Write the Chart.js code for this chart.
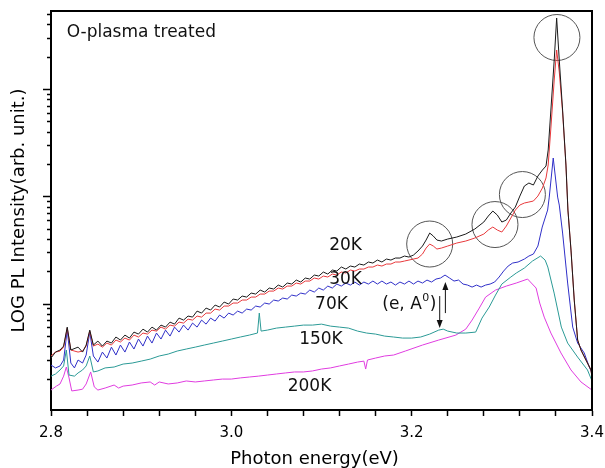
<!DOCTYPE html>
<html>
<head>
<meta charset="utf-8">
<script src="https://cdn.jsdelivr.net/npm/chart.js@4"></script>
<style>
html,body{margin:0;padding:0;background:#fff;}
#c{display:block;}
</style>
</head>
<body>
<canvas id="c" width="605" height="468"></canvas>
<script>
// ---------- DATA (photon energy in eV, PL intensity in arb. units) ----------
const energy20K30K = [2.800,2.805,2.810,2.814,2.818,2.822,2.830,2.835,2.839,2.843,2.847,
 2.852,2.857,2.862,2.867,2.872,2.877,2.882,2.887,2.892,2.897,
 2.902,2.907,2.912,2.917,2.922,2.927,2.932,2.937,2.942,2.947,
 2.952,2.957,2.962,2.967,2.972,2.977,2.982,2.987,2.992,2.997,
 3.002,3.007,3.012,3.017,3.022,3.027,3.032,3.037,3.042,3.047,
 3.052,3.057,3.062,3.067,3.072,3.077,3.082,3.087,3.092,3.097,
 3.102,3.107,3.112,3.117,3.122,3.127,3.132,3.137,3.142,3.147,
 3.152,3.157,3.162,3.167,3.172,3.177,3.182,3.187,3.192,3.197,
 3.202,3.207,3.212,3.216,3.220,3.224,3.228,3.233,
 3.240,3.250,3.260,3.270,3.280,
 3.285,3.290,3.295,3.300,3.305,3.310,3.315,3.320,3.325,3.330,3.335,3.340,3.345,
 3.349,3.3514,3.3544,3.3581,3.3608,3.3637,3.3674,3.3711,3.3733,3.3767,3.3803,3.3841,3.3878,3.3933,3.3989,3.400];

const pl20K = [314,357,373,406,610,373,397,357,415,572,415,
 452,406,452,433,493,462,514,482,548,525,
 584,548,610,572,637,610,679,650,740,709,
 773,756,860,824,918,879,979,938,1044,1000,
 1114,1090,1187,1162,1266,1239,1350,1294,1410,1380,
 1503,1440,1570,1536,1674,1604,1748,1710,1863,1824,
 1988,1904,2075,2031,2213,2120,2261,2213,2360,2310,
 2464,2412,2571,2464,2627,2571,2684,2684,2802,2742,
 2862,3119,3472,3949,4590,4303,3949,3866,
 4035,4212,4492,5001,5812,
 6609,7358,6753,5812,6066,7050,8020,10150,12590,13420,12860,15590,17740,
 19330,27250,64280,188000,463000,188000,64280,19750,7518,3187,1090,462,373,301,243,205];

const pl30K = [328,357,365,397,597,373,357,365,406,560,406,
 424,397,433,415,462,443,482,462,514,493,
 537,525,572,560,610,584,637,623,679,665,
 724,709,773,756,824,824,898,879,958,958,
 1022,1022,1090,1090,1162,1162,1239,1239,1321,1321,
 1410,1380,1471,1471,1570,1536,1638,1638,1748,1710,
 1824,1786,1904,1863,1988,1945,2075,2031,2120,2120,
 2213,2213,2310,2261,2360,2360,2464,2464,2517,2571,
 2627,2684,2925,3326,3625,3472,3256,3326,
 3472,3703,3866,4122,4492,
 4895,5220,4895,4689,5334,6332,7518,8370,8738,8927,9121,10150,12060,
 14960,19750,43690,122400,233000,145300,61600,19750,7518,3187,1090,462,373,301,243,209];

const energy70K = [2.800,2.805,2.810,2.814,2.818,2.822,2.826,2.830,2.835,2.839,2.843,2.847,
 2.852,2.857,2.862,2.867,2.872,2.877,2.882,2.887,2.892,2.897,
 2.902,2.907,2.912,2.917,2.922,2.927,2.932,2.937,2.942,2.947,
 2.952,2.957,2.962,2.967,2.972,2.977,2.982,2.987,2.992,2.997,
 3.002,3.007,3.012,3.017,3.022,3.027,3.032,3.037,3.042,3.047,
 3.052,3.057,3.062,3.067,3.072,3.077,3.082,3.087,3.092,3.097,
 3.102,3.107,3.112,3.117,3.122,3.127,3.132,3.137,3.142,3.147,
 3.152,3.157,3.162,3.167,3.172,3.177,3.182,3.187,3.192,3.197,
 3.202,3.207,3.212,3.217,3.222,3.227,3.232,3.237,3.242,3.247,
 3.252,3.257,3.262,3.267,3.272,3.277,3.282,3.287,3.292,3.297,
 3.302,3.307,3.312,
 3.318,3.325,3.330,3.335,3.340,3.3448,3.3508,3.3526,3.357,3.3619,3.3637,3.3674,3.373,3.3786,3.3841,3.3914,3.397,3.400];

const pl70K = [270,254,265,301,572,282,254,301,282,335,548,328,
 288,357,314,397,335,415,357,443,381,472,
 406,503,433,537,472,572,503,610,548,637,
 572,665,610,709,650,740,694,790,740,824,
 790,860,824,898,879,958,938,1022,1000,1090,
 1067,1138,1114,1213,1187,1266,1239,1350,1294,1410,
 1350,1471,1410,1536,1471,1570,1503,1604,1503,1604,
 1536,1638,1536,1638,1536,1604,1503,1604,1536,1638,
 1536,1638,1570,1674,1604,1710,1748,1863,1748,1638,
 1674,1536,1503,1440,1503,1440,1503,1536,1604,1786,
 2031,2261,2412,
 2464,2627,2802,2925,3472,5220,7518,9930,22950,9930,8370,4590,1570,610,433,350,259,228];

const energy150K = [2.800,2.805,2.810,2.814,2.817,2.820,2.826,2.830,2.835,2.839,2.843,2.847,2.852,
 2.860,2.870,2.880,2.890,2.900,2.910,2.920,2.930,2.940,2.950,2.960,2.970,2.980,2.990,3.000,3.010,3.020,
 3.029,3.031,3.033,
 3.040,3.050,3.060,3.070,3.080,3.090,3.100,3.110,3.120,3.130,3.140,3.150,3.160,3.170,3.180,3.190,3.200,3.210,3.220,3.230,
 3.235,3.240,3.250,3.260,
 3.271,3.278,3.286,3.293,3.300,3.310,3.316,3.325,3.334,3.343,3.348,3.351,3.358,3.366,3.373,3.384,3.395,3.400];

const pl150K = [213,223,243,265,373,218,213,228,243,265,328,233,238,
 254,259,276,282,294,307,328,342,365,381,397,415,433,452,472,493,514,
 537,824,560,
 572,597,610,623,637,637,650,623,610,597,560,537,525,503,493,482,482,493,525,572,
 584,560,537,537,
 548,740,938,1213,1536,1786,1945,2166,2517,2802,2571,2213,1266,610,433,321,243,192];

const energy200K = [2.800,2.806,2.810,2.814,2.817,2.820,2.823,2.830,2.835,2.839,2.844,2.848,2.852,
 2.860,2.870,2.875,2.880,2.890,2.900,2.910,2.915,2.920,2.930,2.940,2.950,2.960,2.970,2.980,2.990,3.000,
 3.010,3.020,3.030,3.040,3.050,3.060,3.070,3.080,3.090,3.100,3.110,3.120,3.130,3.140,
 3.147,3.149,3.151,
 3.160,3.170,3.180,3.193,3.212,3.230,3.249,3.260,3.267,3.275,3.282,3.293,3.305,3.316,3.3286,3.338,3.342,3.347,3.3544,3.3656,3.3767,3.3878,3.400];

const pl200K = [158,172,180,213,259,205,155,158,161,180,233,169,158,
 165,176,165,172,176,184,188,176,188,180,184,192,188,192,196,200,200,
 205,209,213,218,223,228,233,233,238,248,254,265,276,288,
 294,248,301,
 314,328,335,365,415,462,514,584,709,918,1162,1350,1471,1570,1710,1410,1022,756,537,350,243,188,158];

// Highlight circles (energy, intensity)
const circleEnergy = [3.220, 3.2924, 3.3228, 3.3611];
const circleIntensity = [3625, 5507, 10484, 304600];

// Temperature labels
const tempLabels = ['20K','30K','70K','150K','200K'];
const tempLabelEnergy = [3.1267, 3.1267, 3.1111, 3.0994, 3.0867];
const tempLabelIntensity = [3471, 1673, 979, 462, 172];

// Axis ticks
const xMajorTicks = [2.8, 3.0, 3.2, 3.4];
const xMajorLabels = ['2.8', '3.0', '3.2', '3.4'];
const xMinorStep = 0.04;
const yMin = 103, yMax = 538000;

// (e, A0) annotation arrows: energy, from-intensity, to-intensity
const arrowUp = {e: 3.2374, from: 824, to: 1603};
const arrowDown = {e: 3.2311, from: 1187, to: 597};
const eA0Label = {e: 3.1674, i: 979};
const panelLabel = {text: 'O-plasma treated', e: 2.8174, i: 340600};

// ---------- helpers ----------
const pts = (xs, ys) => xs.map((x, i) => ({x: x, y: ys[i]}));
const xTicks = [];
for (let k = 0; k <= Math.round((3.4 - 2.8) / xMinorStep); k++) xTicks.push(+(2.8 + k * xMinorStep).toFixed(3));
const yMajor = [], yMinor = [];
for (let p = 2; p <= 5; p++) {
  for (let m = 1; m <= 9; m++) {
    const v = m * Math.pow(10, p);
    if (v < yMin || v > yMax) continue;
    (m === 1 ? yMajor : yMinor).push(v);
  }
}

function drawArrow(ctx, x, y1, y2) {
  const dir = y2 < y1 ? -1 : 1;
  ctx.beginPath();
  ctx.moveTo(x, y1);
  ctx.lineTo(x, y2 - dir * 7);
  ctx.stroke();
  ctx.beginPath();
  ctx.moveTo(x, y2);
  ctx.lineTo(x - 3, y2 - dir * 8);
  ctx.lineTo(x + 3, y2 - dir * 8);
  ctx.closePath();
  ctx.fill();
}

const annotPlugin = {
  id: 'annot',
  afterDatasetsDraw(chart) {
    const {ctx, chartArea: a} = chart;
    const xs = chart.scales.x, ys = chart.scales.y;
    ctx.save();
    // frame (top and right)
    ctx.strokeStyle = '#000';
    ctx.lineWidth = 2;
    ctx.beginPath();
    ctx.moveTo(a.left - 1, a.top);
    ctx.lineTo(a.right, a.top);
    ctx.lineTo(a.right, a.bottom + 1);
    ctx.stroke();

    ctx.fillStyle = '#111';
    ctx.textBaseline = 'middle';
    // temperature labels
    ctx.font = '17px "DejaVu Sans"';
    ctx.textAlign = 'center';
    tempLabels.forEach((t, i) => {
      ctx.fillText(t, xs.getPixelForValue(tempLabelEnergy[i]), ys.getPixelForValue(tempLabelIntensity[i]));
    });
    // panel label
    ctx.textAlign = 'left';
    ctx.fillText(panelLabel.text, xs.getPixelForValue(panelLabel.e), ys.getPixelForValue(panelLabel.i));
    // (e, A0)
    let lx = xs.getPixelForValue(eA0Label.e);
    const ly = ys.getPixelForValue(eA0Label.i);
    ctx.fillText('(e, A', lx, ly);
    lx += ctx.measureText('(e, A').width + 0.5;
    ctx.font = '11px "DejaVu Sans"';
    ctx.fillText('0', lx, ly - 7);
    lx += ctx.measureText('0').width + 0.5;
    ctx.font = '17px "DejaVu Sans"';
    ctx.fillText(')', lx, ly);
    // arrows
    ctx.strokeStyle = '#111';
    ctx.lineWidth = 1;
    drawArrow(ctx, xs.getPixelForValue(arrowUp.e), ys.getPixelForValue(arrowUp.from), ys.getPixelForValue(arrowUp.to));
    drawArrow(ctx, xs.getPixelForValue(arrowDown.e), ys.getPixelForValue(arrowDown.from), ys.getPixelForValue(arrowDown.to));
    // x-axis title
    ctx.font = '18px "DejaVu Sans"';
    ctx.textAlign = 'center';
    ctx.fillStyle = '#000';
    ctx.fillText('Photon energy(eV)', (a.left + a.right) / 2 - 7, chart.height - 9);
    ctx.restore();
  }
};

Chart.defaults.font.family = '"DejaVu Sans", sans-serif';
Chart.defaults.color = '#000';

const lineDs = (label, xs, ys, color) => ({
  label: label,
  data: pts(xs, ys),
  borderColor: color,
  backgroundColor: color,
  borderWidth: 1,
  pointRadius: 0,
  tension: 0,
  fill: false
});

new Chart(document.getElementById('c'), {
  type: 'line',
  data: {
    datasets: [
      lineDs('20K', energy20K30K, pl20K, '#1a1a1a'),
      lineDs('30K', energy20K30K, pl30K, '#e8393c'),
      lineDs('70K', energy70K, pl70K, '#2f2fc8'),
      lineDs('150K', energy150K, pl150K, '#2b9a96'),
      lineDs('200K', energy200K, pl200K, '#e03ce0'),
      {
        label: 'highlight',
        data: pts(circleEnergy, circleIntensity),
        showLine: false,
        pointRadius: 23,
        pointHoverRadius: 23,
        pointBorderWidth: 1,
        pointBorderColor: '#555',
        pointBackgroundColor: 'rgba(0,0,0,0)'
      }
    ]
  },
  options: {
    responsive: false,
    animation: false,
    devicePixelRatio: 1,
    events: [],
    layout: {autoPadding: false, padding: {top: 11, right: 13, left: 0, bottom: 0}},
    plugins: {legend: {display: false}, tooltip: {enabled: false}},
    scales: {
      x: {
        type: 'linear',
        min: 2.8,
        max: 3.4,
        afterBuildTicks: s => { s.ticks = xTicks.map(v => ({value: v})); },
        afterFit: s => { s.height = 58; s.paddingLeft = 0; s.paddingRight = 0; },
        ticks: {
          autoSkip: false,
          maxRotation: 0,
          padding: 8,
          font: {size: 15},
          color: '#000',
          callback: v => {
            const i = xMajorTicks.findIndex(m => Math.abs(m - v) < 1e-6);
            return i >= 0 ? xMajorLabels[i] : '';
          }
        },
        grid: {drawOnChartArea: false, drawTicks: true, tickLength: 6, tickColor: '#000', tickWidth: 1.5},
        border: {display: true, color: '#000', width: 2}
      },
      y: {
        type: 'logarithmic',
        position: 'left',
        weight: 0,
        min: yMin,
        max: yMax,
        afterBuildTicks: s => { s.ticks = yMajor.map(v => ({value: v, major: true})); },
        afterFit: s => { s.width = 0; },
        ticks: {display: false},
        grid: {drawOnChartArea: false, drawTicks: true, tickLength: 8, tickColor: '#000', tickWidth: 1.5},
        border: {display: true, color: '#000', width: 2}
      },
      y2: {
        type: 'logarithmic',
        position: 'left',
        weight: 1,
        min: yMin,
        max: yMax,
        afterBuildTicks: s => { s.ticks = yMinor.map(v => ({value: v})); },
        afterFit: s => { s.width = 51; },
        ticks: {display: false},
        grid: {drawOnChartArea: false, drawTicks: true, tickLength: 4, tickColor: '#000', tickWidth: 1.5},
        border: {display: false},
        title: {
          display: true,
          text: 'LOG PL Intensity(arb. unit.)',
          font: {size: 18},
          color: '#000',
          padding: {top: 9, bottom: 0}
        }
      }
    }
  },
  plugins: [annotPlugin]
});
</script>
</body>
</html>
